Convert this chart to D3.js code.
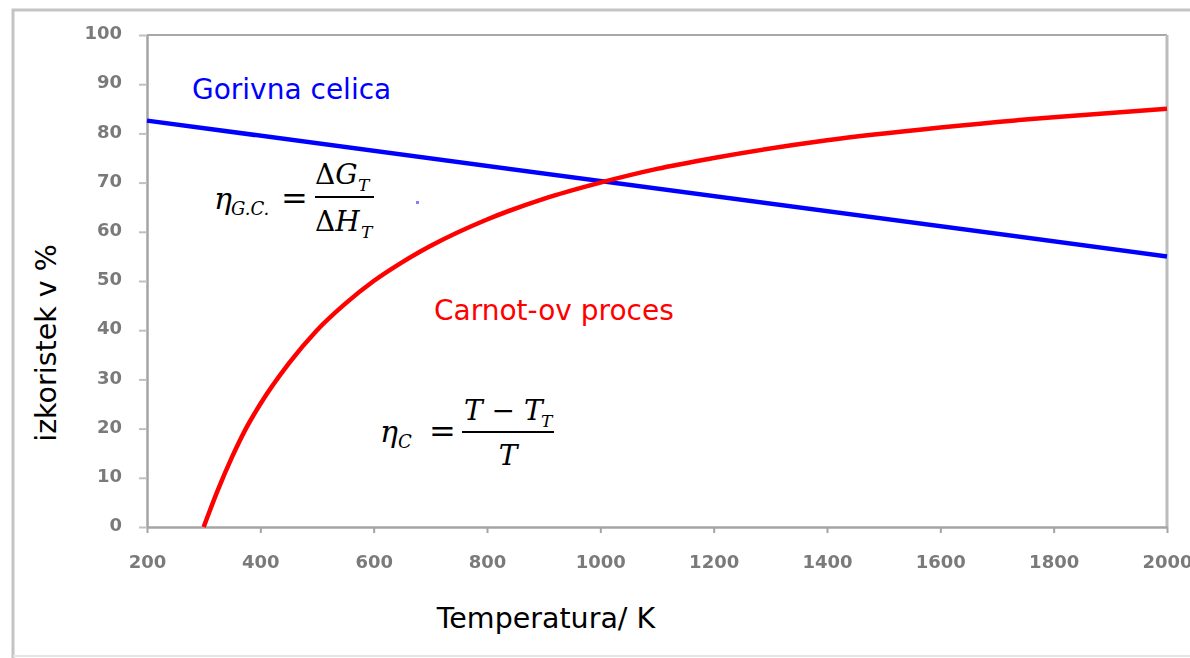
<!DOCTYPE html>
<html>
<head>
<meta charset="utf-8">
<script src="https://cdn.jsdelivr.net/npm/d3@7"></script>
<style>
  body { margin: 0; background: #fff; }
  svg { display: block; }
</style>
</head>
<body>
<div id="chart-container"></div>
<script>
const W = 1190, H = 658;
const margin = {top: 35, right: 23, bottom: 131, left: 147};
const width = W - margin.left - margin.right;
const height = H - margin.top - margin.bottom;

const xTicks = [200, 400, 600, 800, 1000, 1200, 1400, 1600, 1800, 2000];
const yTicks = [0, 10, 20, 30, 40, 50, 60, 70, 80, 90, 100];

// Carnot-ov proces, values
const carnotT   = [300, 325, 350, 375, 400, 450, 500, 550, 600, 650, 700, 800, 900, 1000, 1100, 1200, 1400, 1600, 1800, 2000];
const carnotEta = [0, 7.5, 14.2, 20.1, 25, 33.2, 40, 45.4, 50, 53.8, 57.1, 62.5, 66.7, 70, 72.8, 75, 78.6, 81.2, 83.3, 85];

// Gorivna celica
const fuelT   = [200, 2000];
const fuelEta = [82.6, 55];

const xAxisName = "Temperatura/ K";
const yAxisName = "izkoristek v %";

const svg0 = d3.select("#chart-container")
    .append("svg")
    .attr("width", W)
    .attr("height", H);

// soft blur for the low-res tick labels
const blur = svg0.append("defs").append("filter")
    .attr("id", "soft")
    .attr("x", "-20%").attr("y", "-20%")
    .attr("width", "140%").attr("height", "140%");
blur.append("feGaussianBlur").attr("stdDeviation", 0.7);

// outer frame
svg0.append("path")
    .attr("d", `M13,${H + 5} L13,10 L${W + 5},10`)
    .attr("fill", "none")
    .attr("stroke", "#c4c4c4")
    .attr("stroke-width", 3);
svg0.append("line")
    .attr("x1", 13).attr("x2", W)
    .attr("y1", 656).attr("y2", 656)
    .attr("stroke", "#e6e6e6")
    .attr("stroke-width", 2);

const svg = svg0.append("g")
    .attr("transform", `translate(${margin.left}, ${margin.top})`);

const xScale = d3.scaleLinear().domain([200, 2000]).range([0, width]);
const yScale = d3.scaleLinear().domain([0, 100]).range([height, 0]);

// top and right border of plot area
svg.append("line")
    .attr("x1", 0).attr("x2", width)
    .attr("y1", 0).attr("y2", 0)
    .attr("stroke", "#a8a8a8").attr("stroke-width", 2);
svg.append("line")
    .attr("x1", width).attr("x2", width)
    .attr("y1", 0).attr("y2", height)
    .attr("stroke", "#bcbcbc").attr("stroke-width", 3);

// x axis
const xAxis = svg.append("g")
    .attr("transform", `translate(0, ${height})`)
    .call(d3.axisBottom(xScale).tickValues(xTicks).tickSize(6).tickPadding(22).tickSizeOuter(0).tickFormat(d3.format("d")));
xAxis.select(".domain").attr("stroke", "#a4a4a4").attr("stroke-width", 2.5);
xAxis.selectAll(".tick line").attr("stroke", "#a4a4a4").attr("stroke-width", 2);
xAxis.selectAll(".tick text")
    .style("font-family", "'DejaVu Sans', Verdana, sans-serif")
    .style("font-size", "18px")
    .style("font-weight", "bold")
    .attr("fill", "#7a7a7a")
    .attr("filter", "url(#soft)");

// y axis
const yAxis = svg.append("g")
    .call(d3.axisLeft(yScale).tickValues(yTicks).tickSize(8).tickPadding(17).tickSizeOuter(0));
yAxis.select(".domain").attr("stroke", "#a4a4a4").attr("stroke-width", 2.5);
yAxis.selectAll(".tick line").attr("stroke", "#c0c0c0").attr("stroke-width", 2);
yAxis.selectAll(".tick text")
    .attr("dy", "0.2em")
    .style("font-family", "'DejaVu Sans', Verdana, sans-serif")
    .style("font-size", "18px")
    .style("font-weight", "bold")
    .attr("fill", "#7a7a7a")
    .attr("filter", "url(#soft)");

// axis labels
svg.append("text")
    .attr("x", 399)
    .attr("y", 593)
    .attr("text-anchor", "middle")
    .style("font-family", "'DejaVu Sans', Verdana, sans-serif")
    .style("font-size", "28.5px")
    .attr("fill", "#000")
    .text(xAxisName);

svg.append("text")
    .attr("transform", "rotate(-90)")
    .attr("x", -308)
    .attr("y", -91)
    .attr("text-anchor", "middle")
    .style("font-family", "'DejaVu Sans', Verdana, sans-serif")
    .style("font-size", "28.5px")
    .attr("fill", "#000")
    .text(yAxisName);

// lines
const line = d3.line()
    .x(d => xScale(d[0]))
    .y(d => yScale(d[1]));

const fuelData = fuelT.map((t, i) => [t, fuelEta[i]]);
const carnotData = carnotT.map((t, i) => [t, carnotEta[i]]);

svg.append("path")
    .datum(fuelData)
    .attr("fill", "none")
    .attr("stroke", "#0000ff")
    .attr("stroke-width", 4.5)
    .attr("d", line);

svg.append("path")
    .datum(carnotData)
    .attr("fill", "none")
    .attr("stroke", "#ff0000")
    .attr("stroke-width", 4.5)
    .attr("d", line.curve(d3.curveMonotoneX));

// series labels
svg.append("text")
    .attr("x", 45).attr("y", 64)
    .style("font-family", "'DejaVu Sans', Verdana, sans-serif")
    .style("font-size", "28px")
    .attr("fill", "#0000ff")
    .text("Gorivna celica");

svg.append("text")
    .attr("x", 287).attr("y", 285)
    .style("font-family", "'DejaVu Sans', Verdana, sans-serif")
    .style("font-size", "28px")
    .attr("fill", "#ff0000")
    .text("Carnot-ov proces");

// stray dot
svg.append("rect")
    .attr("x", 269).attr("y", 166)
    .attr("width", 3).attr("height", 3)
    .attr("fill", "#8080ff");

// formulas
const mathFont = "'DejaVu Serif', 'Liberation Serif', serif";
const f1 = svg.append("g").attr("font-family", mathFont).attr("fill", "#000");
f1.append("text").attr("x", 67).attr("y", 174).style("font-size", "30px").style("font-style", "italic").text("η");
f1.append("text").attr("x", 84).attr("y", 180).style("font-size", "18px").style("font-style", "italic").text("G.C.");
f1.append("text").attr("x", 134).attr("y", 174).style("font-size", "32px").text("=");
f1.append("line").attr("x1", 168).attr("x2", 227).attr("y1", 162).attr("y2", 162).attr("stroke", "#000").attr("stroke-width", 2);
f1.append("text").attr("x", 168).attr("y", 149).style("font-size", "28px").html("Δ<tspan font-style='italic'>G</tspan>");
f1.append("text").attr("x", 211).attr("y", 156).style("font-size", "17px").style("font-style", "italic").text("T");
f1.append("text").attr("x", 168).attr("y", 196).style("font-size", "28px").html("Δ<tspan font-style='italic'>H</tspan>");
f1.append("text").attr("x", 214).attr("y", 203).style("font-size", "17px").style("font-style", "italic").text("T");

const f2 = svg.append("g").attr("font-family", mathFont).attr("fill", "#000");
f2.append("text").attr("x", 233).attr("y", 407).style("font-size", "30px").style("font-style", "italic").text("η");
f2.append("text").attr("x", 251).attr("y", 413).style("font-size", "18px").style("font-style", "italic").text("C");
f2.append("text").attr("x", 282).attr("y", 407).style("font-size", "32px").text("=");
f2.append("line").attr("x1", 315).attr("x2", 407).attr("y1", 397).attr("y2", 397).attr("stroke", "#000").attr("stroke-width", 2);
f2.append("text").attr("x", 317).attr("y", 385).style("font-size", "28px").html("<tspan font-style='italic'>T</tspan> − <tspan font-style='italic'>T</tspan>");
f2.append("text").attr("x", 394).attr("y", 392).style("font-size", "17px").style("font-style", "italic").text("T");
f2.append("text").attr("x", 361).attr("y", 430).attr("text-anchor", "middle").style("font-size", "28px").style("font-style", "italic").text("T");
</script>
</body>
</html>
